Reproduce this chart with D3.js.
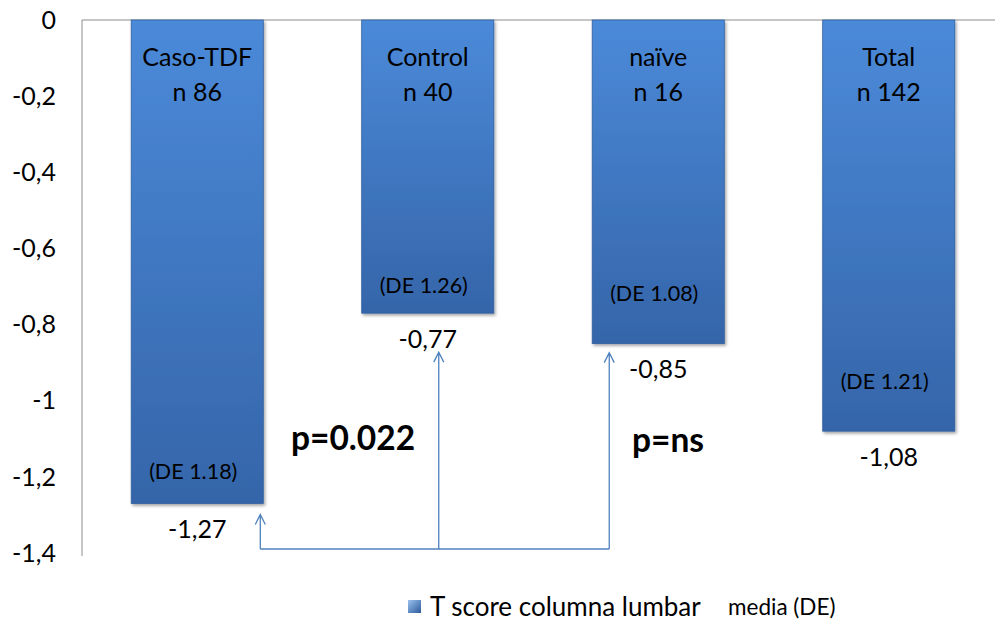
<!DOCTYPE html>
<html>
<head>
<meta charset="utf-8">
<script src="https://cdn.jsdelivr.net/npm/d3@7"></script>
<style>
  body { margin: 0; background: #fff; }
  text { font-family: Lato, "Open Sans", sans-serif; fill: #000; }
</style>
</head>
<body>
<div id="chart"></div>
<script>
// data
var categories = ["Caso-TDF", "Control", "naïve", "Total"];
var nLabels = ["n 86", "n 40", "n 16", "n 142"];
var means = [-1.27, -0.77, -0.85, -1.08];
var sdLabels = ["(DE 1.18)", "(DE 1.26)", "(DE 1.08)", "(DE 1.21)"];
var yTicks = [0, -0.2, -0.4, -0.6, -0.8, -1, -1.2, -1.4];
var seriesName = "T score columna lumbar";
var legendNote = "media (DE)";

function init() {
    var w = 995, h = 622;
    var svg = d3.select("#chart").append("svg")
        .attr("width", w).attr("height", h);

    var defs = svg.append("defs");
    var grad = defs.append("linearGradient")
        .attr("id", "barGrad").attr("x1", 0).attr("y1", 0).attr("x2", 0).attr("y2", 1);
    grad.append("stop").attr("offset", "0%").attr("stop-color", "#4b8ad9");
    grad.append("stop").attr("offset", "100%").attr("stop-color", "#3565a9");

    var shadow = defs.append("filter").attr("id", "shadow")
        .attr("x", "-10%").attr("y", "-10%").attr("width", "130%").attr("height", "130%");
    shadow.append("feDropShadow").attr("dx", 1.5).attr("dy", 2)
        .attr("stdDeviation", 1.5).attr("flood-color", "#000").attr("flood-opacity", 0.35);

    var mGrad = defs.append("linearGradient")
        .attr("id", "markGrad").attr("x1", 0).attr("y1", 0).attr("x2", 1).attr("y2", 1);
    mGrad.append("stop").attr("offset", "0%").attr("stop-color", "#9cc3ee");
    mGrad.append("stop").attr("offset", "100%").attr("stop-color", "#2b5a9c");

    // scales
    var x = d3.scaleBand().domain(categories).range([82, 1004]).paddingInner(0.427).paddingOuter(0.2135);
    var y = d3.scaleLinear().domain([0, -1.4]).range([20, 553]);

    // axis lines
    svg.append("line").attr("x1", 82).attr("x2", w).attr("y1", y(0)).attr("y2", y(0))
        .attr("stroke", "#8c8c8c").attr("stroke-width", 1);
    svg.append("line").attr("x1", 82).attr("x2", 82).attr("y1", y(0)).attr("y2", y(-1.4) + 3)
        .attr("stroke", "#8c8c8c").attr("stroke-width", 1);

    // tick labels
    var fmt = function(v) { return v === 0 ? "0" : String(v).replace(".", ","); };
    svg.selectAll("text.tick").data(yTicks).enter().append("text")
        .attr("class", "tick")
        .attr("x", 56).attr("y", function(d) { return y(d); })
        .attr("dy", "0.35em").attr("text-anchor", "end")
        .style("font-size", "25px")
        .text(fmt);

    // bars
    var bars = svg.selectAll("g.bar").data(categories).enter().append("g").attr("class", "bar");
    bars.append("rect")
        .attr("x", function(d) { return x(d); })
        .attr("y", y(0))
        .attr("width", x.bandwidth())
        .attr("height", function(d, i) { return y(means[i]) - y(0); })
        .attr("fill", "url(#barGrad)")
        .attr("stroke", "#30609f").attr("stroke-width", 0.8)
        .attr("filter", "url(#shadow)");

    var cx = function(d) { return x(d) + x.bandwidth() / 2; };

    bars.append("text")
        .attr("x", cx).attr("y", 57).attr("dy", "0.35em")
        .attr("text-anchor", "middle").style("font-size", "25px")
        .text(function(d) { return d; });
    bars.append("text")
        .attr("x", cx).attr("y", 92).attr("dy", "0.35em")
        .attr("text-anchor", "middle").style("font-size", "25px")
        .text(function(d, i) { return nLabels[i]; });

    // SD labels sit inside the bar, near its base
    var sdLift = [32, 28, 50, 50];
    bars.append("text")
        .attr("x", function(d) { return cx(d) - 4; })
        .attr("y", function(d, i) { return y(means[i]) - sdLift[i]; })
        .attr("dy", "0.35em").attr("text-anchor", "middle")
        .style("font-size", "21.5px")
        .text(function(d, i) { return sdLabels[i]; });

    // value labels under bars
    bars.append("text")
        .attr("x", cx)
        .attr("y", function(d, i) { return y(means[i]) + 26; })
        .attr("dy", "0.35em").attr("text-anchor", "middle")
        .style("font-size", "25px")
        .text(function(d, i) { return fmt(means[i]); });

    // comparison arrows
    var blue = "#4f81bd";
    var baseY = 549;
    var ax = [x(categories[0]) + x.bandwidth() - 3, cx(categories[1]) + 11, cx(categories[2]) - 49];
    var tips = [y(means[0]) + 11, y(means[1]) + 39, y(means[2]) + 9];
    svg.append("path")
        .attr("d", "M" + ax[0] + "," + baseY + "H" + ax[2])
        .attr("stroke", blue).attr("stroke-width", 1.3).attr("fill", "none");
    ax.forEach(function(xx, i) {
        svg.append("path")
            .attr("d", "M" + xx + "," + baseY + "V" + tips[i] +
                "M" + (xx - 5) + "," + (tips[i] + 10) + "L" + xx + "," + tips[i] + "L" + (xx + 5) + "," + (tips[i] + 10))
            .attr("stroke", blue).attr("stroke-width", 1.3).attr("fill", "none");
    });

    // p values
    svg.append("text").attr("x", 353).attr("y", 438).attr("dy", "0.35em")
        .attr("text-anchor", "middle").style("font-size", "33.5px").style("font-weight", "bold")
        .text("p=0.022");
    svg.append("text").attr("x", 668).attr("y", 440).attr("dy", "0.35em")
        .attr("text-anchor", "middle").style("font-size", "33.5px").style("font-weight", "bold")
        .text("p=ns");

    // legend
    svg.append("rect").attr("x", 408).attr("y", 600).attr("width", 13).attr("height", 13)
        .attr("fill", "url(#markGrad)");
    svg.append("text").attr("x", 430).attr("y", 607).attr("dy", "0.35em")
        .style("font-size", "26px").text(seriesName);
    svg.append("text").attr("x", 728).attr("y", 607).attr("dy", "0.35em")
        .style("font-size", "22.5px").text(legendNote);
}

window.onload = init;
</script>
</body>
</html>
